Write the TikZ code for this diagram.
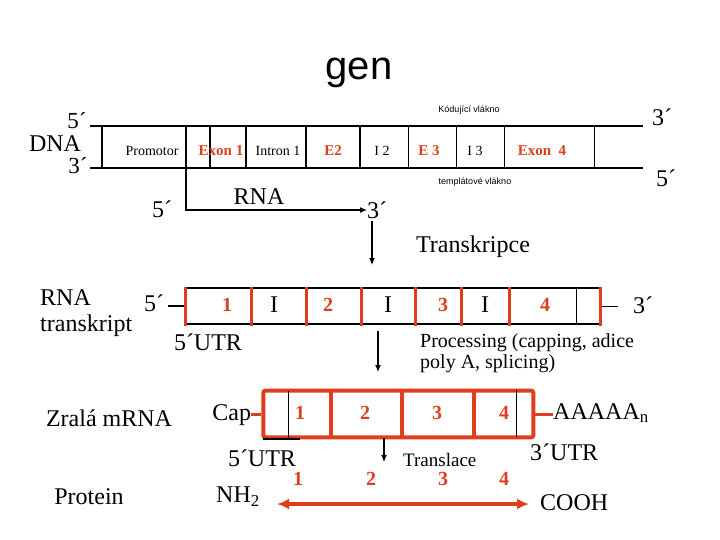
\documentclass[tikz,border=0pt]{standalone}
\usepackage{fontspec}
\setmainfont{Liberation Serif}
\newfontfamily\arialfont{Liberation Sans}
\usepackage{tikz}
\usetikzlibrary{positioning,calc,arrows.meta}
\definecolor{exonred}{RGB}{222,62,28}

\begin{document}
\begin{tikzpicture}[x=1pt,y=-1pt,
    txt/.style={inner sep=0pt, font=\fontsize{24}{26}\selectfont},
    small/.style={inner sep=0pt, font=\fontsize{14}{16}\selectfont},
    tiny/.style={inner sep=0pt, font=\arialfont\fontsize{9}{10}\selectfont},
    ex/.style={inner sep=0pt, text=exonred, font=\bfseries\fontsize{15}{16}\selectfont},
    num/.style={inner sep=0pt, text=exonred, font=\bfseries\fontsize{20}{22}\selectfont},
    mid/.style={inner sep=0pt, font=\fontsize{20}{21}\selectfont},
    redline/.style={exonred, line width=3pt},
    thinline/.style={line width=1.1pt},
    blackarrow/.style={thinline, -{Latex[length=7pt,width=6pt]}}]
    \useasboundingbox (0,0) rectangle (720,540);

    % title
    \node[inner sep=0pt, anchor=base, font=\arialfont\fontsize{40}{44}\selectfont] (gen) at (359,80) {gen};

    % DNA
    \node[txt, font=\fontsize{23}{25}\selectfont] (dna5) at (77,121) {5´};
    \node[txt] (dna) at (55,144) {DNA};
    \node[txt, font=\fontsize{23}{25}\selectfont] (dna3) at (78,166) {3´};
    \draw[thinline] (90,126) -- (643,126);
    \draw[thinline] (90,168) -- (643,168);
    \foreach \x in {102,186,210,246,306,360,408.7,456.7,504.7,594.7}
        \draw[thinline] (\x,126) -- (\x,168);
    \node[small] (prom) at (152,151) {Promotor};
    \node[ex] (exon1) at (221,151) {Exon 1};
    \node[small] (intron1) at (278,151) {Intron 1};
    \node[ex] (e2) at (333,151) {E2};
    \node[small] (i2) at (382,151) {I 2};
    \node[ex] (e3) at (429,151) {E 3};
    \node[small] (i3) at (475,151) {I 3};
    \node[ex] (exon4) at (542,151) {Exon\ \ 4};
    \node[tiny] (kodujici) at (469,110) {Kódující vlákno};
    \node[tiny] (templat) at (475,182) {templátové vlákno};
    \node[txt] (dna3r) at (662,117) {3´};
    \node[txt] (dna5r) at (666,178) {5´};

    % RNA synthesis
    \node[txt] (rna) at (259,197) {RNA};
    \node[txt] (rna5) at (162,209) {5´};
    \node[txt, anchor=west] (rna3) at (367,210) {3´};
    \coordinate (rnastart) at (186,168);
    \draw[blackarrow] (rnastart) |- (rna3.west);
    \coordinate (transtop) at (372,221);
    \coordinate (transbot) at (372,265);
    \draw[blackarrow] (transtop) -- (transbot);
    \node[txt, anchor=base] (transkripce) at (473,252) {Transkripce};

    % RNA transkript
    \node[txt, anchor=west, align=left] (transkript) at (40,313) {RNA\\transkript};
    \draw[thinline] (185,288) -- (600,288);
    \draw[thinline] (185,324) -- (600,324);
    \draw[thinline] (576.7,288) -- (576.7,324);
    \foreach \x in {185,251.7,306,361.7,415,461.7,509.3,600}
        \draw[redline] (\x,286.5) -- (\x,325.5);
    \node[num] (t1) at (227,305) {1};
    \node[txt] (ti1) at (274,305) {I};
    \node[num] (t2) at (328,305) {2};
    \node[txt] (ti2) at (388,305) {I};
    \node[num] (t3) at (443,305) {3};
    \node[txt] (ti3) at (485,305) {I};
    \node[num] (t4) at (545,305) {4};
    \node[txt] (t5end) at (154,303) {5´};
    \node[txt] (t3end) at (643,305) {3´};
    \coordinate (tleft) at (183.5,306);
    \coordinate (tright) at (601.5,306.5);
    \draw[thinline] ([xshift=4pt]t5end.east |- tleft) -- (tleft);
    \draw[thinline] (tright) -- (618,306.5);
    \node[txt] (utr5a) at (208,342) {5´UTR};
    \coordinate (proctop) at (378,331);
    \coordinate (procbot) at (378,372);
    \draw[blackarrow] (proctop) -- (procbot);
    \node[mid, anchor=base west] (proc1) at (420,347) {Processing (capping, adice};
    \node[mid, anchor=base west] (proc2) at (420,368) {poly A, splicing)};

    % zrala mRNA
    \node[txt] (zrala) at (109,418) {Zralá mRNA};
    \node[draw=exonred, line width=4pt, rounded corners=2pt, minimum width=270pt,
          minimum height=46.6pt, inner sep=0pt] (mrna) at (398.3,414) {};
    \foreach \x in {330.7,402.2,474.2}
        \draw[exonred, line width=4pt] (\x,390.7) -- (\x,437.3);
    \draw[thinline] (288.3,391) -- (288.3,438.5);
    \draw[thinline] (263,439) -- (300,439);
    \draw[thinline] (516.7,390) -- (516.7,437);
    \node[txt] (cap) at (231.7,415) {Cap};
    \node[txt, anchor=west] (polya) at (553,413) {AAAAA\textsubscript{n}};
    \draw[redline] (cap.east |- mrna.west) -- (mrna.west);
    \draw[redline] (mrna.east) -- (polya.west |- mrna.east);
    \node[num] (m1) at (300,413) {1};
    \node[num] (m2) at (365,413) {2};
    \node[num] (m3) at (437,413) {3};
    \node[num] (m4) at (504,413) {4};
    \node[txt] (utr5b) at (262,458) {5´UTR};
    \node[txt, anchor=west] (utr3) at (530,452) {3´UTR};
    \coordinate (tltop) at (384,438);
    \coordinate (tlbot) at (384,462);
    \draw[blackarrow] (tltop) -- (tlbot);
    \node[inner sep=0pt, anchor=west, font=\fontsize{19}{20}\selectfont] (translace) at (403,460) {Translace};

    % protein
    \node[txt] (protein) at (89,497) {Protein};
    \node[num] (p1) at (298,479) {1};
    \node[num] (p2) at (371,479) {2};
    \node[num] (p3) at (443,479) {3};
    \node[num] (p4) at (504,479) {4};
    \node[txt] (nh2) at (238,497) {NH\textsubscript{2}};
    \node[txt, anchor=west] (cooh) at (540,503) {COOH};
    \coordinate (nterm) at (277,504);
    \coordinate (cterm) at (529,504);
    \draw[exonred, line width=4pt, {Latex[length=12pt,width=11pt]}-{Latex[length=12pt,width=11pt]}] (nterm) -- (cterm);
\end{tikzpicture}
\end{document}
